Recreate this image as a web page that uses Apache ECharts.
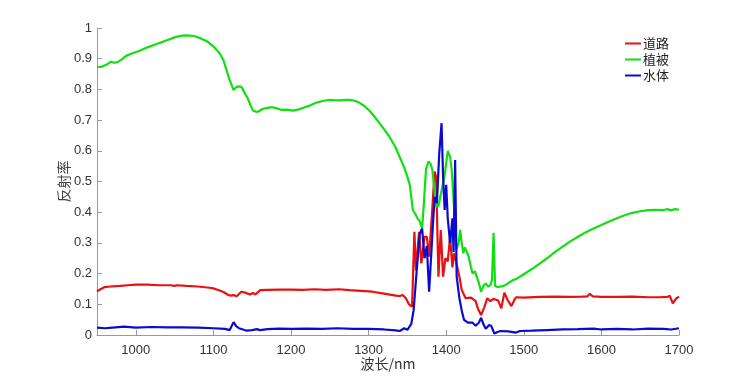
<!DOCTYPE html>
<html>
<head>
<meta charset="utf-8">
<script src="https://cdn.jsdelivr.net/npm/echarts@6/dist/echarts.min.js"></script>
<style>
 html, body { margin: 0; padding: 0; background: #fff; }
 #spectra { width: 750px; height: 376px; }
</style>
</head>
<body>
<div id="spectra"></div>
<script>
// 数据 (波长 nm / 反射率)
var roadWl = [950,955,960,967,980,990,1000,1015,1030,1045,1050,1053,1065,1080,1095,1100,1107,1113,1118,1122,1126,1130,1136,1141,1147,1151,1154,1157,1160,1170,1185,1200,1215,1230,1245,1262,1275,1290,1305,1320,1335,1340,1344,1348,1352,1356,1359,1361,1365,1368,1372,1375,1378,1382,1385,1387,1390,1393,1396,1399,1402,1405,1408,1410,1413,1417,1420,1425,1432,1438,1441,1445,1449,1453,1457,1461,1464,1467,1471,1475,1479,1484,1488,1490,1500,1520,1540,1560,1575,1582,1585,1589,1600,1620,1640,1660,1675,1685,1688,1692,1696,1700];
var roadVal = [0.142,0.150,0.156,0.158,0.160,0.162,0.164,0.164,0.162,0.162,0.160,0.162,0.160,0.158,0.154,0.152,0.146,0.140,0.132,0.128,0.130,0.126,0.141,0.138,0.132,0.137,0.132,0.138,0.146,0.147,0.148,0.148,0.147,0.149,0.147,0.149,0.146,0.144,0.141,0.135,0.128,0.127,0.130,0.120,0.100,0.092,0.336,0.210,0.336,0.233,0.320,0.320,0.255,0.407,0.532,0.515,0.190,0.342,0.190,0.250,0.240,0.320,0.220,0.266,0.235,0.190,0.147,0.120,0.122,0.110,0.085,0.065,0.090,0.120,0.110,0.118,0.115,0.112,0.087,0.138,0.115,0.094,0.115,0.123,0.122,0.124,0.125,0.124,0.125,0.126,0.134,0.126,0.124,0.124,0.125,0.123,0.123,0.124,0.128,0.103,0.118,0.125];

var vegWl = [950,955,962,968,972,976,982,988,995,1005,1015,1027,1040,1052,1060,1066,1075,1083,1091,1100,1108,1113,1117,1121,1126,1129,1132,1136,1138,1141,1144,1148,1151,1155,1158,1164,1170,1176,1182,1188,1195,1203,1210,1216,1225,1233,1242,1250,1256,1263,1270,1276,1282,1288,1295,1302,1308,1314,1320,1327,1334,1340,1346,1350,1353,1355,1357,1360,1363,1366,1369,1371,1374,1377,1380,1382,1385,1387,1390,1394,1398,1402,1405,1407,1410,1413,1416,1418,1420,1422,1424,1426,1429,1432,1434,1437,1439,1442,1445,1448,1451,1454,1457,1459,1461,1463,1466,1470,1474,1478,1482,1486,1490,1495,1500,1510,1520,1530,1540,1550,1560,1570,1580,1590,1600,1610,1620,1630,1640,1650,1660,1670,1680,1685,1690,1695,1700];
var vegVal = [0.873,0.873,0.880,0.890,0.887,0.888,0.898,0.910,0.917,0.926,0.937,0.948,0.960,0.971,0.975,0.976,0.974,0.967,0.958,0.940,0.918,0.895,0.862,0.830,0.798,0.806,0.810,0.808,0.800,0.785,0.772,0.748,0.731,0.727,0.728,0.737,0.740,0.742,0.738,0.733,0.734,0.731,0.735,0.740,0.748,0.757,0.763,0.766,0.765,0.764,0.766,0.766,0.763,0.757,0.745,0.728,0.710,0.690,0.670,0.645,0.615,0.580,0.545,0.515,0.490,0.450,0.407,0.395,0.380,0.370,0.347,0.420,0.540,0.565,0.557,0.540,0.470,0.418,0.420,0.470,0.520,0.600,0.580,0.540,0.420,0.277,0.300,0.342,0.300,0.266,0.285,0.290,0.255,0.220,0.200,0.208,0.212,0.170,0.141,0.160,0.168,0.158,0.162,0.180,0.333,0.160,0.156,0.158,0.160,0.165,0.172,0.179,0.182,0.190,0.198,0.214,0.232,0.250,0.270,0.288,0.305,0.320,0.335,0.347,0.358,0.370,0.380,0.390,0.398,0.403,0.407,0.408,0.407,0.410,0.406,0.410,0.408];

var waterWl = [950,960,970,985,1000,1020,1040,1060,1080,1100,1115,1121,1123,1126,1129,1133,1138,1143,1150,1156,1160,1170,1185,1200,1220,1240,1260,1280,1300,1320,1335,1340,1346,1350,1355,1358,1362,1366,1369,1372,1375,1378,1382,1385,1388,1391,1394,1396,1398,1400,1402,1405,1408,1409.5,1411.5,1413.5,1417,1420,1423,1428,1434,1438,1442,1445,1448,1451,1455,1458,1462,1466,1470,1480,1490,1495,1510,1530,1550,1570,1590,1600,1620,1640,1660,1680,1690,1700];
var waterVal = [0.024,0.022,0.024,0.027,0.024,0.026,0.025,0.025,0.024,0.022,0.020,0.016,0.010,0.042,0.030,0.022,0.018,0.014,0.016,0.019,0.016,0.019,0.021,0.020,0.021,0.020,0.022,0.020,0.020,0.018,0.015,0.013,0.022,0.017,0.036,0.081,0.210,0.330,0.347,0.250,0.290,0.141,0.320,0.450,0.430,0.590,0.690,0.516,0.407,0.489,0.380,0.300,0.380,0.270,0.570,0.190,0.120,0.080,0.049,0.040,0.040,0.030,0.040,0.056,0.035,0.020,0.032,0.030,0.005,0.010,0.013,0.012,0.008,0.013,0.014,0.016,0.018,0.019,0.021,0.018,0.020,0.018,0.021,0.020,0.018,0.022];

var xTicks = [1000, 1100, 1200, 1300, 1400, 1500, 1600, 1700];

function pairs(xs, ys) {
    var out = [];
    for (let i = 0; i < xs.length; i++) {
        out.push([xs[i], ys[i]]);
    }
    return out;
}

function initEcharts() {
    var myChart = echarts.init(document.getElementById("spectra"));

    var lineSeries = function(name, color, xs, ys) {
        return {
            name: name,
            type: 'line',
            data: pairs(xs, ys),
            showSymbol: false,
            symbol: 'none',
            lineStyle: { width: 2.2, color: color },
            itemStyle: { color: color },
            animation: false
        };
    };

    var option = {
        backgroundColor: '#fff',
        grid: {
            left: 97,
            right: 71,
            top: 28,
            bottom: 41
        },
        legend: {
            orient: 'vertical',
            right: 76,
            top: 32,
            itemWidth: 16,
            itemHeight: 12,
            itemGap: 3,
            icon: 'path://M0,5 L16,5 L16,7 L0,7 Z',
            textStyle: {
                fontSize: 13,
                color: '#222',
                padding: [0, 0, 0, -3],
                fontFamily: 'Noto Sans CJK SC'
            },
            data: ['道路', '植被', '水体']
        },
        xAxis: {
            type: 'value',
            min: 950,
            max: 1700,
            name: '波长/nm',
            nameLocation: 'middle',
            nameGap: 22,
            nameMoveOverlap: false,
            nameTextStyle: { fontSize: 14, color: '#333', fontFamily: 'Noto Sans CJK SC' },
            splitLine: { show: false },
            axisLine: { lineStyle: { color: '#999' } },
            axisTick: { inside: true, length: 5, customValues: xTicks, lineStyle: { color: '#999' } },
            axisLabel: {
                customValues: xTicks,
                formatter: function(v) { return String(v); },
                fontSize: 13,
                color: '#333',
                margin: 9,
                fontFamily: 'Liberation Sans'
            }
        },
        yAxis: {
            type: 'value',
            min: 0,
            max: 1,
            interval: 0.1,
            name: '反射率',
            nameLocation: 'middle',
            nameGap: 26,
            nameMoveOverlap: false,
            nameTextStyle: { fontSize: 14, color: '#444', fontFamily: 'Noto Sans CJK SC' },
            splitLine: { show: false },
            axisLine: { show: true, lineStyle: { color: '#999' } },
            axisTick: { show: true, inside: true, length: 5, lineStyle: { color: '#999' } },
            axisLabel: {
                fontSize: 13,
                color: '#333',
                margin: 5,
                fontFamily: 'Liberation Sans'
            }
        },
        series: [
            lineSeries('道路', '#e81010', roadWl, roadVal),
            lineSeries('植被', '#10e010', vegWl, vegVal),
            lineSeries('水体', '#0a0ad0', waterWl, waterVal)
        ]
    };

    myChart.setOption(option);
    resize(myChart);
}

// 响应式
function resize(echart) {
    window.onresize = function() {
        echart.resize();
    }
}

initEcharts();
</script>
</body>
</html>
